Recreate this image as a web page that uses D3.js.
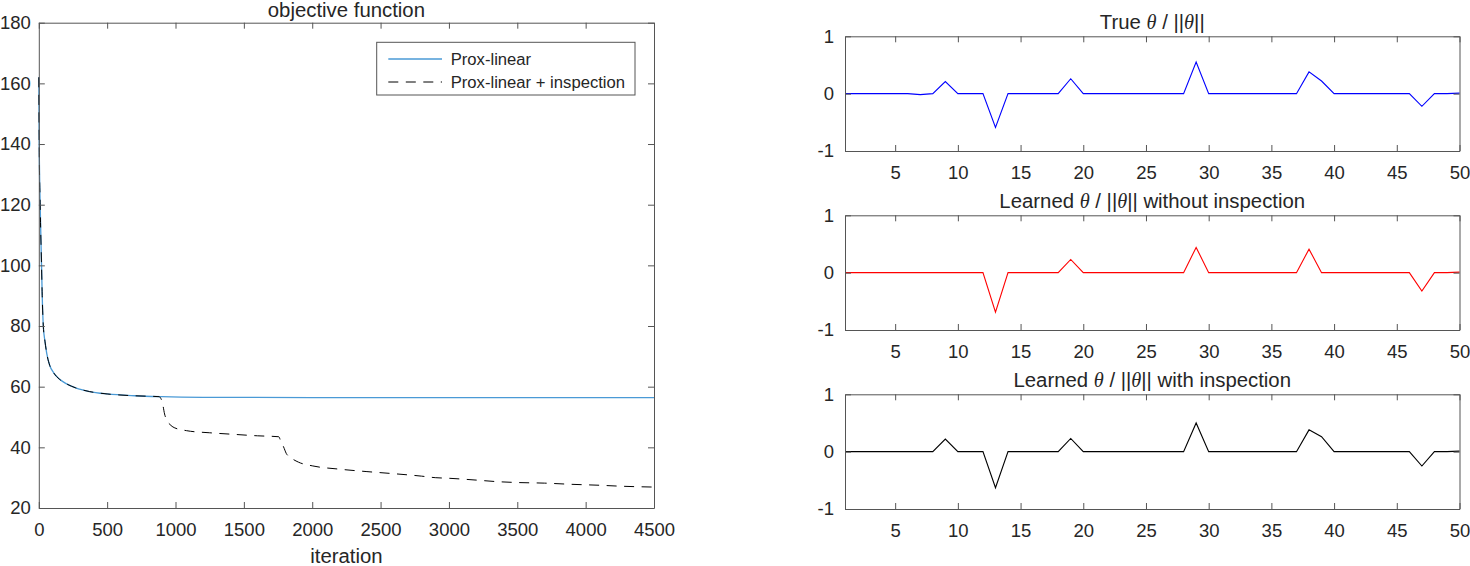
<!DOCTYPE html>
<html><head><meta charset="utf-8">
<script src="https://cdn.jsdelivr.net/npm/d3@7"></script>
<style>
body{margin:0;background:#fff}
svg{display:block}
text{font-family:"Liberation Sans",Arial,Helvetica,sans-serif;fill:#262626}
</style>
</head><body>
<svg id="c" width="1470" height="566"></svg>
<script>
// ---- data: objective function ----
const proxIter = [0,3,10,20,25,33,45,58,80,110,150,200,270,370,500,700,900,1200,2000,4500];
const proxVal  = [162,140,120,100,90,80,75,71,67,64.5,62.5,61,59.6,58.4,57.6,57,56.7,56.5,56.4,56.4];
const inspIter = [0,3,10,20,25,33,45,58,80,110,150,200,270,370,500,700,880,905,920,935,960,990,1080,1250,1420,1600,1755,1770,1790,1810,1840,1900,2000,2200,2400,2600,2800,2900,3000,3200,3350,3500,3700,3900,4100,4250,4500];
const inspVal  = [162,140,120,100,90,80,75,71,67,64.5,62.5,61,59.6,58.4,57.6,57,56.7,54.5,51,49,47.5,46.5,45.5,44.8,44.3,43.8,43.5,42,40.2,38,36.7,35.1,33.9,32.8,32,31.3,30.5,30,29.8,29.2,28.7,28.4,28.2,27.8,27.5,27.2,26.9];
const objXTicks = [0,500,1000,1500,2000,2500,3000,3500,4000,4500];
const objYTicks = [20,40,60,80,100,120,140,160,180];
const seriesNames = ["Prox-linear","Prox-linear + inspection"];

// ---- data: theta ----
const thetaIdx = [1,2,3,4,5,6,7,8,9,10,11,12,13,14,15,16,17,18,19,20,21,22,23,24,25,26,27,28,29,30,31,32,33,34,35,36,37,38,39,40,41,42,43,44,45,46,47,48,49,50];
const thetaTrue = [0,0,0,0,0,0,-0.017,0,0.21,0,0,0,-0.59,0,0,0,0,0,0.26,0,0,0,0,0,0,0,0,0,0.55,0,0,0,0,0,0,0,0,0.38,0.22,0,0,0,0,0,0,0,-0.22,0,0,0.01];
const thetaNoInsp = [0,0,0,0,0,0,0,0,0,0,0,0,-0.69,0,0,0,0,0,0.23,0,0,0,0,0,0,0,0,0,0.44,0,0,0,0,0,0,0,0,0.41,0,0,0,0,0,0,0,0,-0.32,0,0,0.01];
const thetaInsp = [0,0,0,0,0,0,0,0,0.22,0,0,0,-0.63,0,0,0,0,0,0.23,0,0,0,0,0,0,0,0,0,0.50,0,0,0,0,0,0,0,0,0.38,0.26,0,0,0,0,0,0,0,-0.25,0,0,0.01];
const thetaXTicks = [5,10,15,20,25,30,35,40,45,50];
const thetaYTicks = [-1,0,1];

const F = 18.5, FT = 20.35, FL = 16.65;
const AX = "#555";
const svg = d3.select("#c");
const plain = d => String(d);

function styleAxis(g, showText){
  g.select(".domain").attr("stroke",AX).attr("stroke-width",1);
  g.selectAll(".tick line").attr("stroke",AX).attr("stroke-width",1);
  g.selectAll(".tick text").style("font-size",F+"px").attr("fill","#262626");
  if(!showText) g.selectAll(".tick text").remove();
}

function box(g, x, y, xt, yt, padY){
  const [x0,x1] = x.range(), [y0,y1] = y.range();
  const ts = 6;
  const b = g.append("g").attr("transform",`translate(0,${y0})`)
    .call(d3.axisBottom(x).tickValues(xt).tickSize(-ts).tickSizeOuter(0).tickPadding(15).tickFormat(plain));
  styleAxis(b,true);
  const t = g.append("g").attr("transform",`translate(0,${y1})`)
    .call(d3.axisTop(x).tickValues(xt).tickSize(-ts).tickSizeOuter(0));
  styleAxis(t,false);
  const l = g.append("g").attr("transform",`translate(${x0},0)`)
    .call(d3.axisLeft(y).tickValues(yt).tickSize(-ts).tickSizeOuter(0).tickPadding(padY).tickFormat(plain));
  styleAxis(l,true);
  const r = g.append("g").attr("transform",`translate(${x1},0)`)
    .call(d3.axisRight(y).tickValues(yt).tickSize(-ts).tickSizeOuter(0));
  styleAxis(r,false);
}

// ---- left: objective ----
const xO = d3.scaleLinear().domain([0,4500]).range([38.8,654]);
const yO = d3.scaleLinear().domain([20,180]).range([508,22.7]);
const gO = svg.append("g");
const lineO = d3.line().curve(d3.curveMonotoneX).x(d=>xO(d[0])).y(d=>yO(d[1]));
gO.append("path").datum(d3.zip(proxIter,proxVal)).attr("d",lineO)
  .attr("fill","none").attr("stroke","#4a9ad6").attr("stroke-width",1.3);
gO.append("path").datum(d3.zip(inspIter,inspVal)).attr("d",lineO)
  .attr("fill","none").attr("stroke","#000").attr("stroke-width",1).attr("stroke-dasharray","10,7.5");
box(gO,xO,yO,objXTicks,objYTicks,8);
gO.append("text").attr("x",(38.8+654)/2).attr("y",16.5).attr("text-anchor","middle")
  .style("font-size",FT+"px").text("objective function");
gO.append("text").attr("x",(38.8+654)/2).attr("y",563).attr("text-anchor","middle")
  .style("font-size",FT+"px").text("iteration");

// legend
const lg = gO.append("g");
lg.append("rect").attr("x",376.7).attr("y",42.3).attr("width",258.3).attr("height",52.7)
  .attr("fill","#fff").attr("stroke",AX).attr("stroke-width",1);
const legStyles = [{c:"#4a9ad6",d:null,w:1.3},{c:"#000",d:"10,7.5",w:1}];
seriesNames.forEach((n,i)=>{
  const yy = 59 + i*23;
  lg.append("line").attr("x1",388.3).attr("x2",442).attr("y1",yy).attr("y2",yy)
    .attr("stroke",legStyles[i].c).attr("stroke-width",legStyles[i].w)
    .attr("stroke-dasharray",legStyles[i].d);
  lg.append("text").attr("x",450.7).attr("y",yy).attr("dy","0.36em")
    .style("font-size",FL+"px").text(n);
});

// ---- right: theta plots ----
const xT = d3.scaleLinear().domain([1,50]).range([845,1459.5]);
const panels = [
  {vals:thetaTrue, color:"#0000ff", top:36.3, pre:"True ", post:""},
  {vals:thetaNoInsp, color:"#ff0000", top:215.3, pre:"Learned ", post:" without inspection"},
  {vals:thetaInsp, color:"#000000", top:394.3, pre:"Learned ", post:" with inspection"}
];
panels.forEach(p=>{
  const yT = d3.scaleLinear().domain([-1,1]).range([p.top+114.7,p.top]);
  const g = svg.append("g");
  const ln = d3.line().x(d=>xT(d[0])).y(d=>yT(d[1]));
  g.append("path").datum(d3.zip(thetaIdx,p.vals)).attr("d",ln)
    .attr("fill","none").attr("stroke",p.color).attr("stroke-width",1.1);
  box(g,xT,yT,thetaXTicks,thetaYTicks,11);
  const t = g.append("text").attr("x",(845+1459.5)/2).attr("y",p.top-7).attr("text-anchor","middle")
    .style("font-size",FT+"px");
  t.append("tspan").text(p.pre);
  t.append("tspan").style("font-family","'Liberation Serif','DejaVu Serif',serif").style("font-style","italic").text("θ");
  t.append("tspan").text(" / ||");
  t.append("tspan").style("font-family","'Liberation Serif','DejaVu Serif',serif").style("font-style","italic").text("θ");
  t.append("tspan").text("||" + p.post);
});
</script>
</body></html>
